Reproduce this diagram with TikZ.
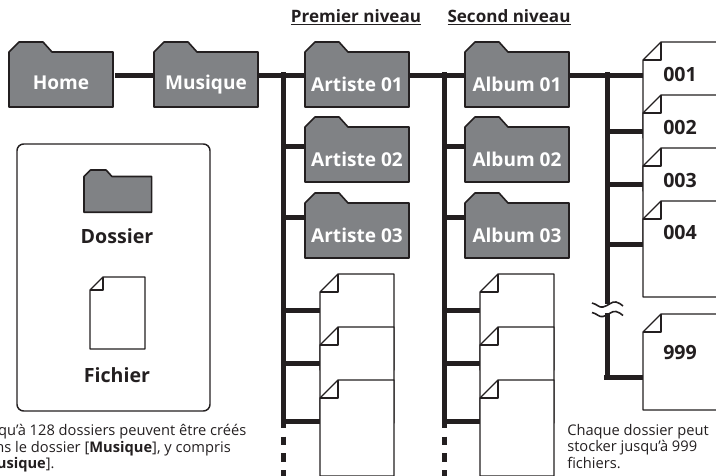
\documentclass[tikz,border=0pt]{standalone}
\usepackage{fontspec}
\setmainfont{Open Sans}
\usepackage{xcolor}
\usetikzlibrary{arrows.meta}
\definecolor{inkblack}{HTML}{231F20}
\definecolor{foldergray}{HTML}{808285}

\newcommand{\foldershape}[3]{
    \draw[shift={(#1,#2)},scale=#3,fill=foldergray,draw=inkblack,line width=1.2pt,line join=round]
        (0,10) -- (10,0) -- (34,0) -- (43,10) -- (104,10) -- (104,65) -- (0,65) -- cycle;
}
\newcommand{\folder}[4]{
    \foldershape{#2}{#3}{1}
    \node[folderbox] (#1) at (#2,#3+10) {#4};
}
\newcommand{\sheet}[6]{
    \draw[sheetline,fill=white] (#2,#3+#6) -- (#2+#6,#3) -- (#2+#4,#3) -- (#2+#4,#3+#5) -- (#2,#3+#5) -- cycle;
    \draw[sheetline] (#2+#6,#3) -- (#2+#6,#3+#6) -- (#2,#3+#6);
    \node[sheetbox,minimum width=#4*0.75pt,minimum height=#5*0.75pt] (#1) at (#2,#3) {};
}

\tikzset{
    folderbox/.style={rectangle,anchor=north west,inner sep=0pt,outer sep=0pt,minimum width=78pt,minimum height=41.25pt,text height=18pt,text depth=0pt,text=white,font=\fontsize{14.3}{16}\selectfont\bfseries},
    sheetbox/.style={rectangle,anchor=north west,inner sep=0pt,outer sep=0pt},
    sheetline/.style={draw=inkblack,line width=0.95pt,line join=round},
    sheetlabel/.style={anchor=west,inner sep=0pt,text=inkblack,font=\fontsize{14.7}{16}\selectfont\bfseries},
    headlabel/.style={inner sep=0pt,text=inkblack,font=\fontsize{12.8}{14}\selectfont\bfseries},
    notelabel/.style={anchor=north west,inner sep=0pt,align=left,text=inkblack,font=\fontsize{11}{12.4}\selectfont}
}

\begin{document}
\begin{tikzpicture}[x=0.75pt,y=-0.75pt]
\clip (0,0) rectangle (716,475);

\node[headlabel] (premier) at (356,17) {\underline{Premier niveau}};
\node[headlabel] (second) at (509,17) {\underline{Second niveau}};

\folder{home}{9}{42}{\raisebox{1.5pt}{Home}}
\folder{musique}{154}{42}{\raisebox{1.5pt}{Musique}}
\folder{art1}{305}{42}{Artiste 01}
\folder{art2}{305}{117}{Artiste 02}
\folder{art3}{305}{193}{Artiste 03}
\folder{alb1}{465}{42}{Album 01}
\folder{alb2}{465}{117}{Album 02}
\folder{alb3}{465}{193}{Album 03}

\sheet{sa1}{320}{274}{74}{96}{18}
\sheet{sa2}{320}{327}{74}{96}{18}
\sheet{sa3}{320}{380}{74}{96}{18}
\sheet{sb1}{480}{274}{74}{96}{18}
\sheet{sb2}{480}{327}{74}{96}{18}
\sheet{sb3}{480}{380}{74}{96}{18}

\sheet{f001}{643}{42}{80}{96}{18}
\sheet{f002}{643}{95}{80}{96}{18}
\sheet{f003}{643}{148}{80}{96}{18}
\sheet{f004}{643}{201}{80}{96}{18}
\sheet{f999}{643}{314}{80}{96}{18}

\begin{scope}[every node/.style={sheetlabel}]
    \node (l001) at (663,74) {001};
    \node (l002) at (663,127) {002};
    \node (l003) at (663,180) {003};
    \node (l004) at (663,232) {004};
    \node (l999) at (663,353) {999};
\end{scope}

\coordinate (ta) at (283,75);
\coordinate (tb) at (444,75);
\coordinate (tc) at (607,75);
\coordinate (ja1) at (283,146.5);
\coordinate (ja2) at (283,217);
\coordinate (ja3) at (283,310);
\coordinate (ja4) at (283,363);
\coordinate (ja5) at (283,421);
\coordinate (jb1) at (444,146.5);
\coordinate (jb2) at (444,217);
\coordinate (jb3) at (444,310);
\coordinate (jb4) at (444,363);
\coordinate (jb5) at (444,421);
\coordinate (jc1) at (607,131);
\coordinate (jc2) at (607,184);
\coordinate (jc3) at (607,244);
\coordinate (jc4) at (607,377);
\coordinate (ea) at (283,428);
\coordinate (eb) at (444,428);
\coordinate (da) at (283,436.5);
\coordinate (db) at (444,436.5);
\coordinate (fa) at (283,480);
\coordinate (fb) at (444,480);

\begin{scope}[every edge/.style={draw=inkblack,line width=3.75pt}]
    \path (home.east |- ta) edge[shorten <=1.5pt] (musique.west |- ta);
    \path (musique.east |- ta) edge (art1.west |- ta);
    \path (art1.east |- tb) edge (alb1.west |- tb);
    \path (alb1.east |- tc) edge (f001.west |- tc);
    \path ([yshift=1.9pt]ta) edge (ea);
    \path ([yshift=1.9pt]tb) edge (eb);
    \path ([yshift=1.9pt]tc) edge ([yshift=-1.9pt]jc4);
    \path (ja1) edge (art2.west |- ja1);
    \path (ja2) edge (art3.west |- ja2);
    \path (ja3) edge (sa1.west |- ja3);
    \path (ja4) edge (sa1.west |- ja4);
    \path (ja5) edge (sa1.west |- ja5);
    \path (jb1) edge (alb2.west |- jb1);
    \path (jb2) edge (alb3.west |- jb2);
    \path (jb3) edge (sb1.west |- jb3);
    \path (jb4) edge (sb1.west |- jb4);
    \path (jb5) edge (sb1.west |- jb5);
    \path (jc1) edge (f002.west |- jc1);
    \path (jc2) edge (f003.west |- jc2);
    \path (jc3) edge (f004.west |- jc3);
    \path ([xshift=-1.9pt]jc4) edge (f999.west |- jc4);
    \path (da) edge[dash pattern=on 6.4pt off 6.3pt] (fa);
    \path (db) edge[dash pattern=on 6.4pt off 6.3pt] (fb);
\end{scope}

\fill[white] (603,304) rectangle (611,313);
\draw[inkblack,line width=1.2pt] (592,303) .. controls (597,304) and (599,308) .. (603,307) .. controls (608,306) and (612,301) .. (616,302) .. controls (619,303) and (621,304) .. (623,306);
\draw[inkblack,line width=1.2pt] (592,312.5) .. controls (597,313.5) and (599,317.5) .. (603,316.5) .. controls (608,315.5) and (612,310.5) .. (616,311.5) .. controls (619,312.5) and (621,313.5) .. (623,315.5);

\draw[inkblack,line width=1.1pt,rounded corners=5pt] (17,144) rectangle (210,411);
\foldershape{84}{170}{0.65}
\node[sheetlabel,anchor=center] (dossier) at (117,236) {Dossier};
\sheet{fichierbox}{90}{277}{55}{72}{13}
\node[sheetlabel,anchor=center] (fichier) at (117,375) {Fichier};

\node[notelabel] (note1) at (-22,424) {Jusqu’à 128 dossiers peuvent être créés\\dans le dossier [\textbf{Musique}], y compris\\{[}\textbf{Musique}].};
\node[notelabel] (note2) at (567,424) {Chaque dossier peut\\stocker jusqu’à 999\\fichiers.};
\end{tikzpicture}
\end{document}
